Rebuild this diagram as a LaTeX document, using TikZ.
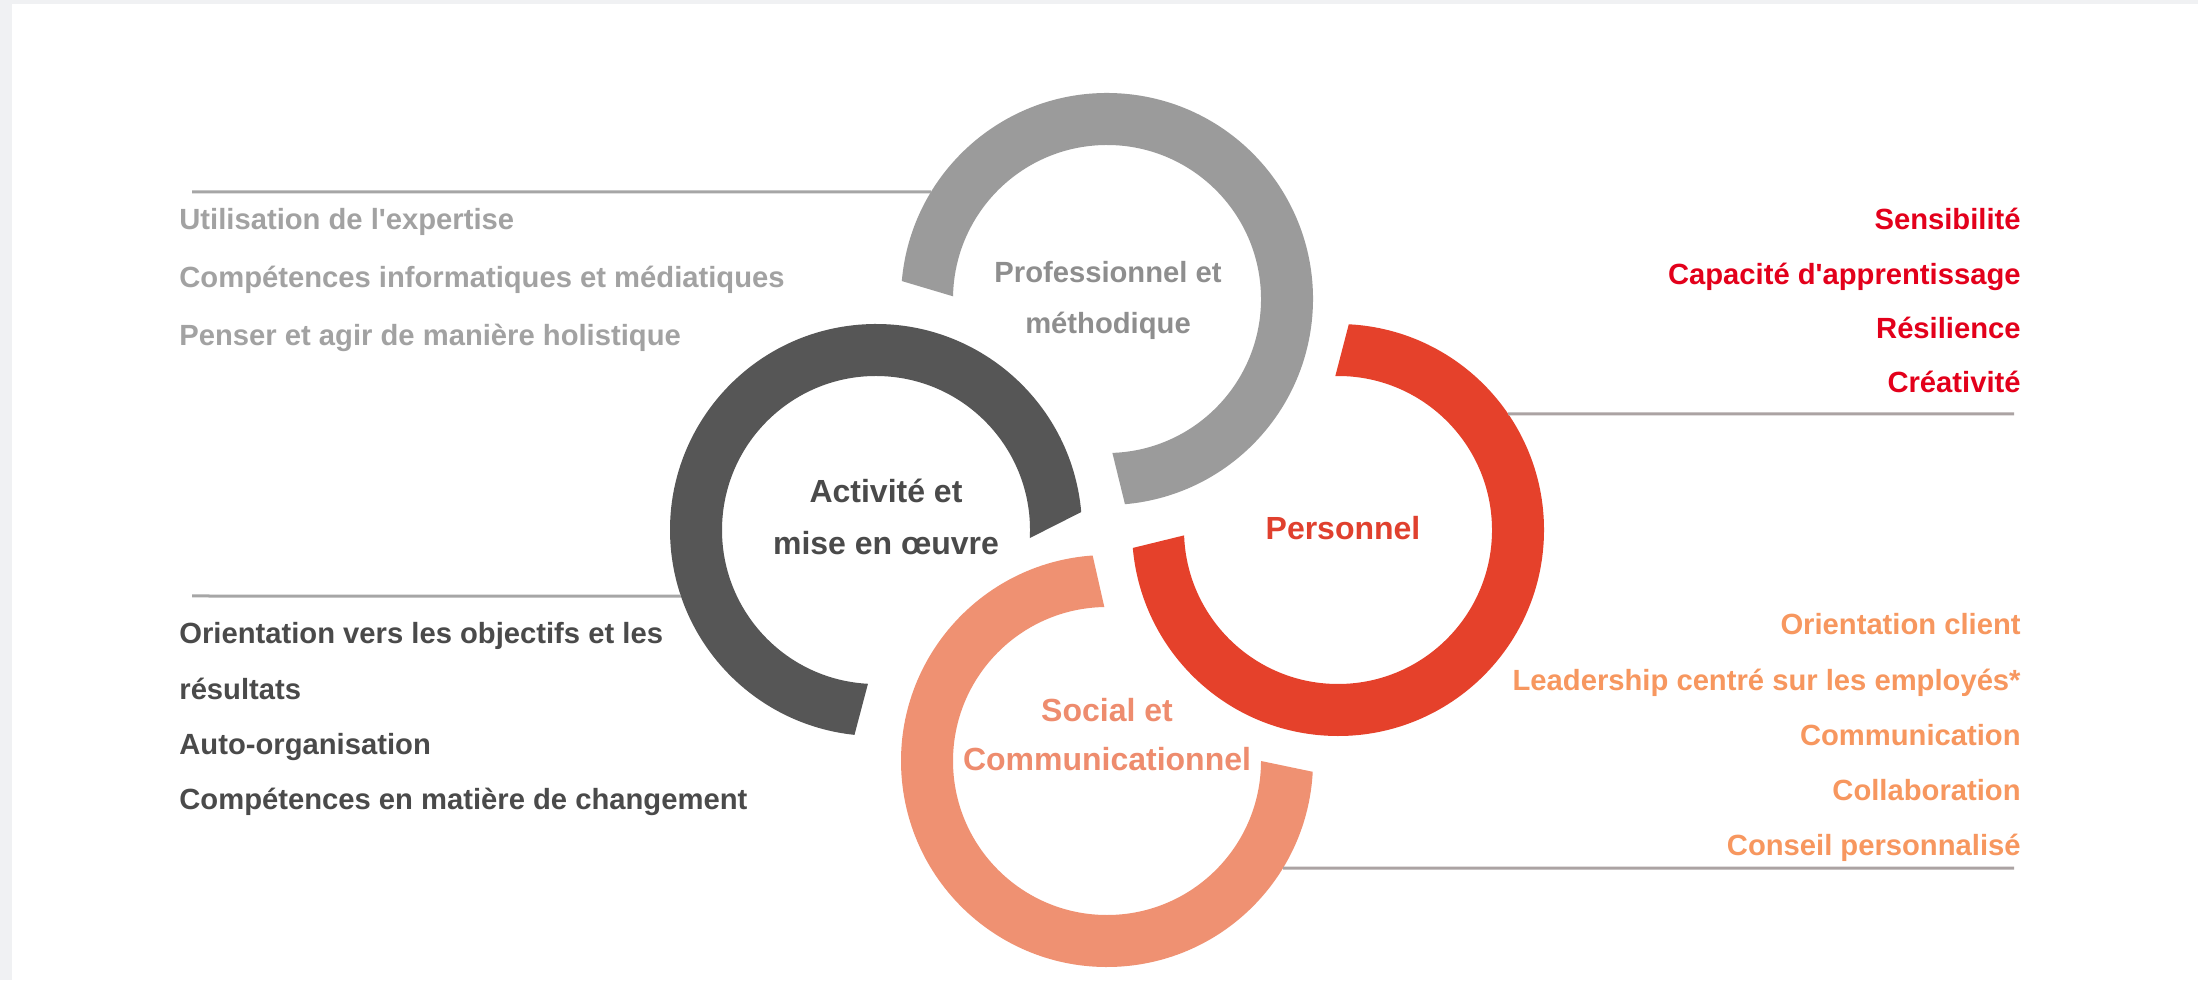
\documentclass[tikz,border=0pt]{standalone}
\usepackage{fontspec}
\setmainfont{Liberation Sans}
\usetikzlibrary{calc}

\definecolor{frameGray}{HTML}{F0F1F3}
\definecolor{proRing}{HTML}{9B9B9B}
\definecolor{proText}{HTML}{8E8E8E}
\definecolor{proList}{HTML}{A2A2A2}
\definecolor{actRing}{HTML}{565656}
\definecolor{actText}{HTML}{4A4A4A}
\definecolor{perRing}{HTML}{E5412B}
\definecolor{perText}{HTML}{E0402E}
\definecolor{perList}{HTML}{E3001B}
\definecolor{socRing}{HTML}{EF9172}
\definecolor{socText}{HTML}{EE8C6E}
\definecolor{socList}{HTML}{F7975F}
\definecolor{leaderL}{HTML}{A6A6A6}
\definecolor{leaderR}{HTML}{ABA3A3}

\begin{document}
\begin{tikzpicture}[x=0.5pt, y=0.5pt,
    ringLabel/.style={font=\bfseries\fontsize{16}{19}\selectfont, anchor=base, inner sep=0pt},
    listItem/.style={font=\bfseries\fontsize{14.6}{17}\selectfont, inner sep=0pt},
    leader/.style={line width=1.5pt}
]

  % Canvas with the thin grey frame on top and left
  \useasboundingbox (0,0) rectangle (2198,980);
  \fill[frameGray] (0,0) rectangle (2198,980);
  \fill[white] (12,0) rectangle (2198,976);

  % Ring sizes
  \def\rOut{206}          % Outer radius of every ring
  \def\rIn{154}           % Inner radius of every ring
  \def\ringSep{231}       % Distance from the middle to each ring centre

  % Ring centres (G top, A left, P right, S bottom)
  \coordinate (M) at (1107,450);
  \coordinate (G) at ($(M)+(0,\ringSep)$);
  \coordinate (A) at ($(M)+(-\ringSep,0)$);
  \coordinate (P) at ($(M)+(\ringSep,0)$);
  \coordinate (S) at ($(M)+(0,-\ringSep)$);

  % The four open rings
  \fill[proRing] ($(G)+(175:\rOut)$) arc[start angle=175, end angle=-85, radius=\rOut]
    -- ($(G)+(-88:\rIn)$) arc[start angle=-88, end angle=179, radius=\rIn] -- cycle;
  \fill[actRing] ($(A)+(5:\rOut)$) arc[start angle=5, end angle=264, radius=\rOut]
    -- ($(A)+(267:\rIn)$) arc[start angle=267, end angle=-3, radius=\rIn] -- cycle;
  \fill[perRing] ($(P)+(87:\rOut)$) arc[start angle=87, end angle=-175, radius=\rOut]
    -- ($(P)+(-178:\rIn)$) arc[start angle=-178, end angle=91, radius=\rIn] -- cycle;
  \fill[socRing] ($(S)+(94:\rOut)$) arc[start angle=94, end angle=357, radius=\rOut]
    -- ($(S)+(360:\rIn)$) arc[start angle=360, end angle=91, radius=\rIn] -- cycle;

  % Ring labels
  \node[ringLabel, font=\bfseries\fontsize{14.6}{17}\selectfont, text=proText] (labPro1) at (1108,697) {Professionnel et};
  \node[ringLabel, font=\bfseries\fontsize{14.6}{17}\selectfont, text=proText] (labPro2) at (1108,646) {méthodique};
  \node[ringLabel, text=actText] (labAct1) at (886,477) {Activité et};
  \node[ringLabel, text=actText] (labAct2) at (886,425) {mise en œuvre};
  \node[ringLabel, text=perText] (labPer) at (1343,440) {Personnel};
  \node[ringLabel, text=socText] (labSoc1) at (1107,259) {Social et};
  \node[ringLabel, text=socText] (labSoc2) at (1107,210) {Communicationnel};

  % Leader lines from the rings to the lists
  \coordinate (proEdge) at ($(G)+(148.7:\rOut)$);
  \coordinate (proEnd) at (192,788);
  \coordinate (actEdge) at ($(A)+(198.7:\rOut)$);
  \coordinate (actEnd) at (192,384);
  \coordinate (perEdge) at ($(P)+(34.3:\rOut)$);
  \coordinate (perEnd) at (2014,566);
  \coordinate (socEdge) at ($(S)+(-31.3:\rOut)$);
  \coordinate (socEnd) at (2014,112);
  \draw[leader, leaderL] (proEnd) -- (proEdge);
  \draw[leader, leaderL] (actEnd) -- (actEdge);
  \draw[leader, leaderR] (perEdge) -- (perEnd);
  \draw[leader, leaderR] (socEdge) -- (socEnd);

  % Lists
  \foreach \txt [count=\i] in {Utilisation de l\textquotesingle expertise,
      Compétences informatiques et médiatiques,
      Penser et agir de manière holistique}
    \node[listItem, anchor=base west, text=proList] (pro\i) at (179,{750-(\i-1)*58}) {\txt};

  \foreach \txt [count=\i] in {Orientation vers les objectifs et les,
      résultats, Auto-organisation,
      Compétences en matière de changement}
    \node[listItem, anchor=base west, text=actText] (act\i) at (179,{336-(\i-1)*55}) {\txt};

  \foreach \txt [count=\i] in {Sensibilité, Capacité d\textquotesingle apprentissage,
      Résilience, Créativité}
    \node[listItem, anchor=base east, text=perList] (per\i) at (2021,{750-(\i-1)*54.3}) {\txt};

  \foreach \txt [count=\i] in {Orientation client,
      Leadership centré sur les employés*, Communication,
      Collaboration, Conseil personnalisé}
    \node[listItem, anchor=base east, text=socList] (soc\i) at (2021,{345-(\i-1)*55}) {\txt};

\end{tikzpicture}
\end{document}
